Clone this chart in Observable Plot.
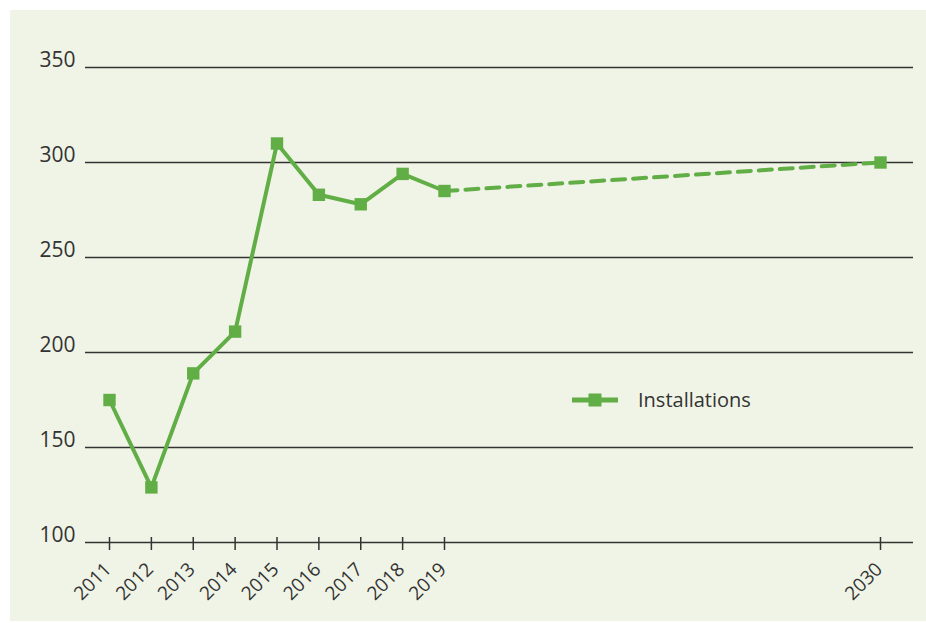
<!DOCTYPE html>
<html>
<head>
<meta charset="utf-8">
<script src="https://cdn.jsdelivr.net/npm/d3@7"></script>
<script src="https://cdn.jsdelivr.net/npm/@observablehq/plot@0.6"></script>
<style>
  html, body { margin: 0; padding: 0; background: #ffffff; }
  #wrap { position: absolute; left: 10px; top: 10px; width: 916px; height: 611px; background: #f0f4e6; overflow: hidden; }
  #legend { position: absolute; left: 562px; top: 376px; font-family: "Open Sans", sans-serif; font-size: 20px; color: #333; display: flex; align-items: center; }
  #legend span { margin-left: 20px; }
</style>
</head>
<body>
<div id="wrap"><div id="chart"></div>
  <div id="legend">
    <svg width="46" height="16"><line x1="0" y1="8" x2="46" y2="8" stroke="#62ae46" stroke-width="5"/><rect x="16.5" y="1.5" width="13" height="13" fill="#62ae46"/></svg>
    <span>Installations</span>
  </div>
</div>
<script>
const years = [2011, 2012, 2013, 2014, 2015, 2016, 2017, 2018, 2019];
const values = [175, 129, 189, 211, 310, 283, 278, 294, 285];
const projYears = [2019, 2030];
const projValues = [285, 300];
const tickYears = [2011, 2012, 2013, 2014, 2015, 2016, 2017, 2018, 2019, 2030];
const yTicks = [100, 150, 200, 250, 300, 350];
const gridValues = [150, 200, 250, 300, 350];
const seriesName = "Installations";

const actual = years.map((y, i) => ({year: y, value: values[i]}));
const projection = projYears.map((y, i) => ({year: y, value: projValues[i]}));
const allPoints = actual.concat(projection.slice(1));

const green = "#62ae46";
const ink = "#333333";

const chart = Plot.plot({
  width: 916,
  height: 611,
  marginLeft: 75,
  marginRight: 13,
  marginTop: 57,
  marginBottom: 79,
  style: {background: "transparent", fontFamily: "'Open Sans', sans-serif", color: ink, overflow: "visible"},
  x: {type: "linear", domain: [2011, 2019, 2030], range: [99, 434, 870], axis: null},
  y: {domain: [100, 350], axis: null},
  marks: [
    Plot.ruleY(gridValues, {stroke: ink, strokeWidth: 1.5}),
    Plot.ruleY([100], {stroke: ink, strokeWidth: 1.5}),
    Plot.axisX({ticks: tickYears, tickSize: 13, dy: -5, fill: "none", stroke: ink, strokeWidth: 1.5, label: null}),
    Plot.text(tickYears, {x: d => d, frameAnchor: "bottom", text: d => String(d), rotate: -45, textAnchor: "end", dx: 3, dy: 28, fontSize: 19, fill: ink}),
    Plot.axisY({ticks: yTicks, tickSize: 0, tickPadding: 10, fontSize: 21, fill: ink, dy: -7, label: null}),
    Plot.line(projection, {x: "year", y: "value", stroke: green, strokeWidth: 4, strokeDasharray: "13,8"}),
    Plot.line(actual, {x: "year", y: "value", stroke: green, strokeWidth: 4}),
    Plot.dot(allPoints, {x: "year", y: "value", symbol: "square", r: 7, fill: green, stroke: "none", title: d => `${seriesName} ${d.year}: ${d.value}`})
  ]
});
document.getElementById("chart").appendChild(chart);
</script>
</body>
</html>
